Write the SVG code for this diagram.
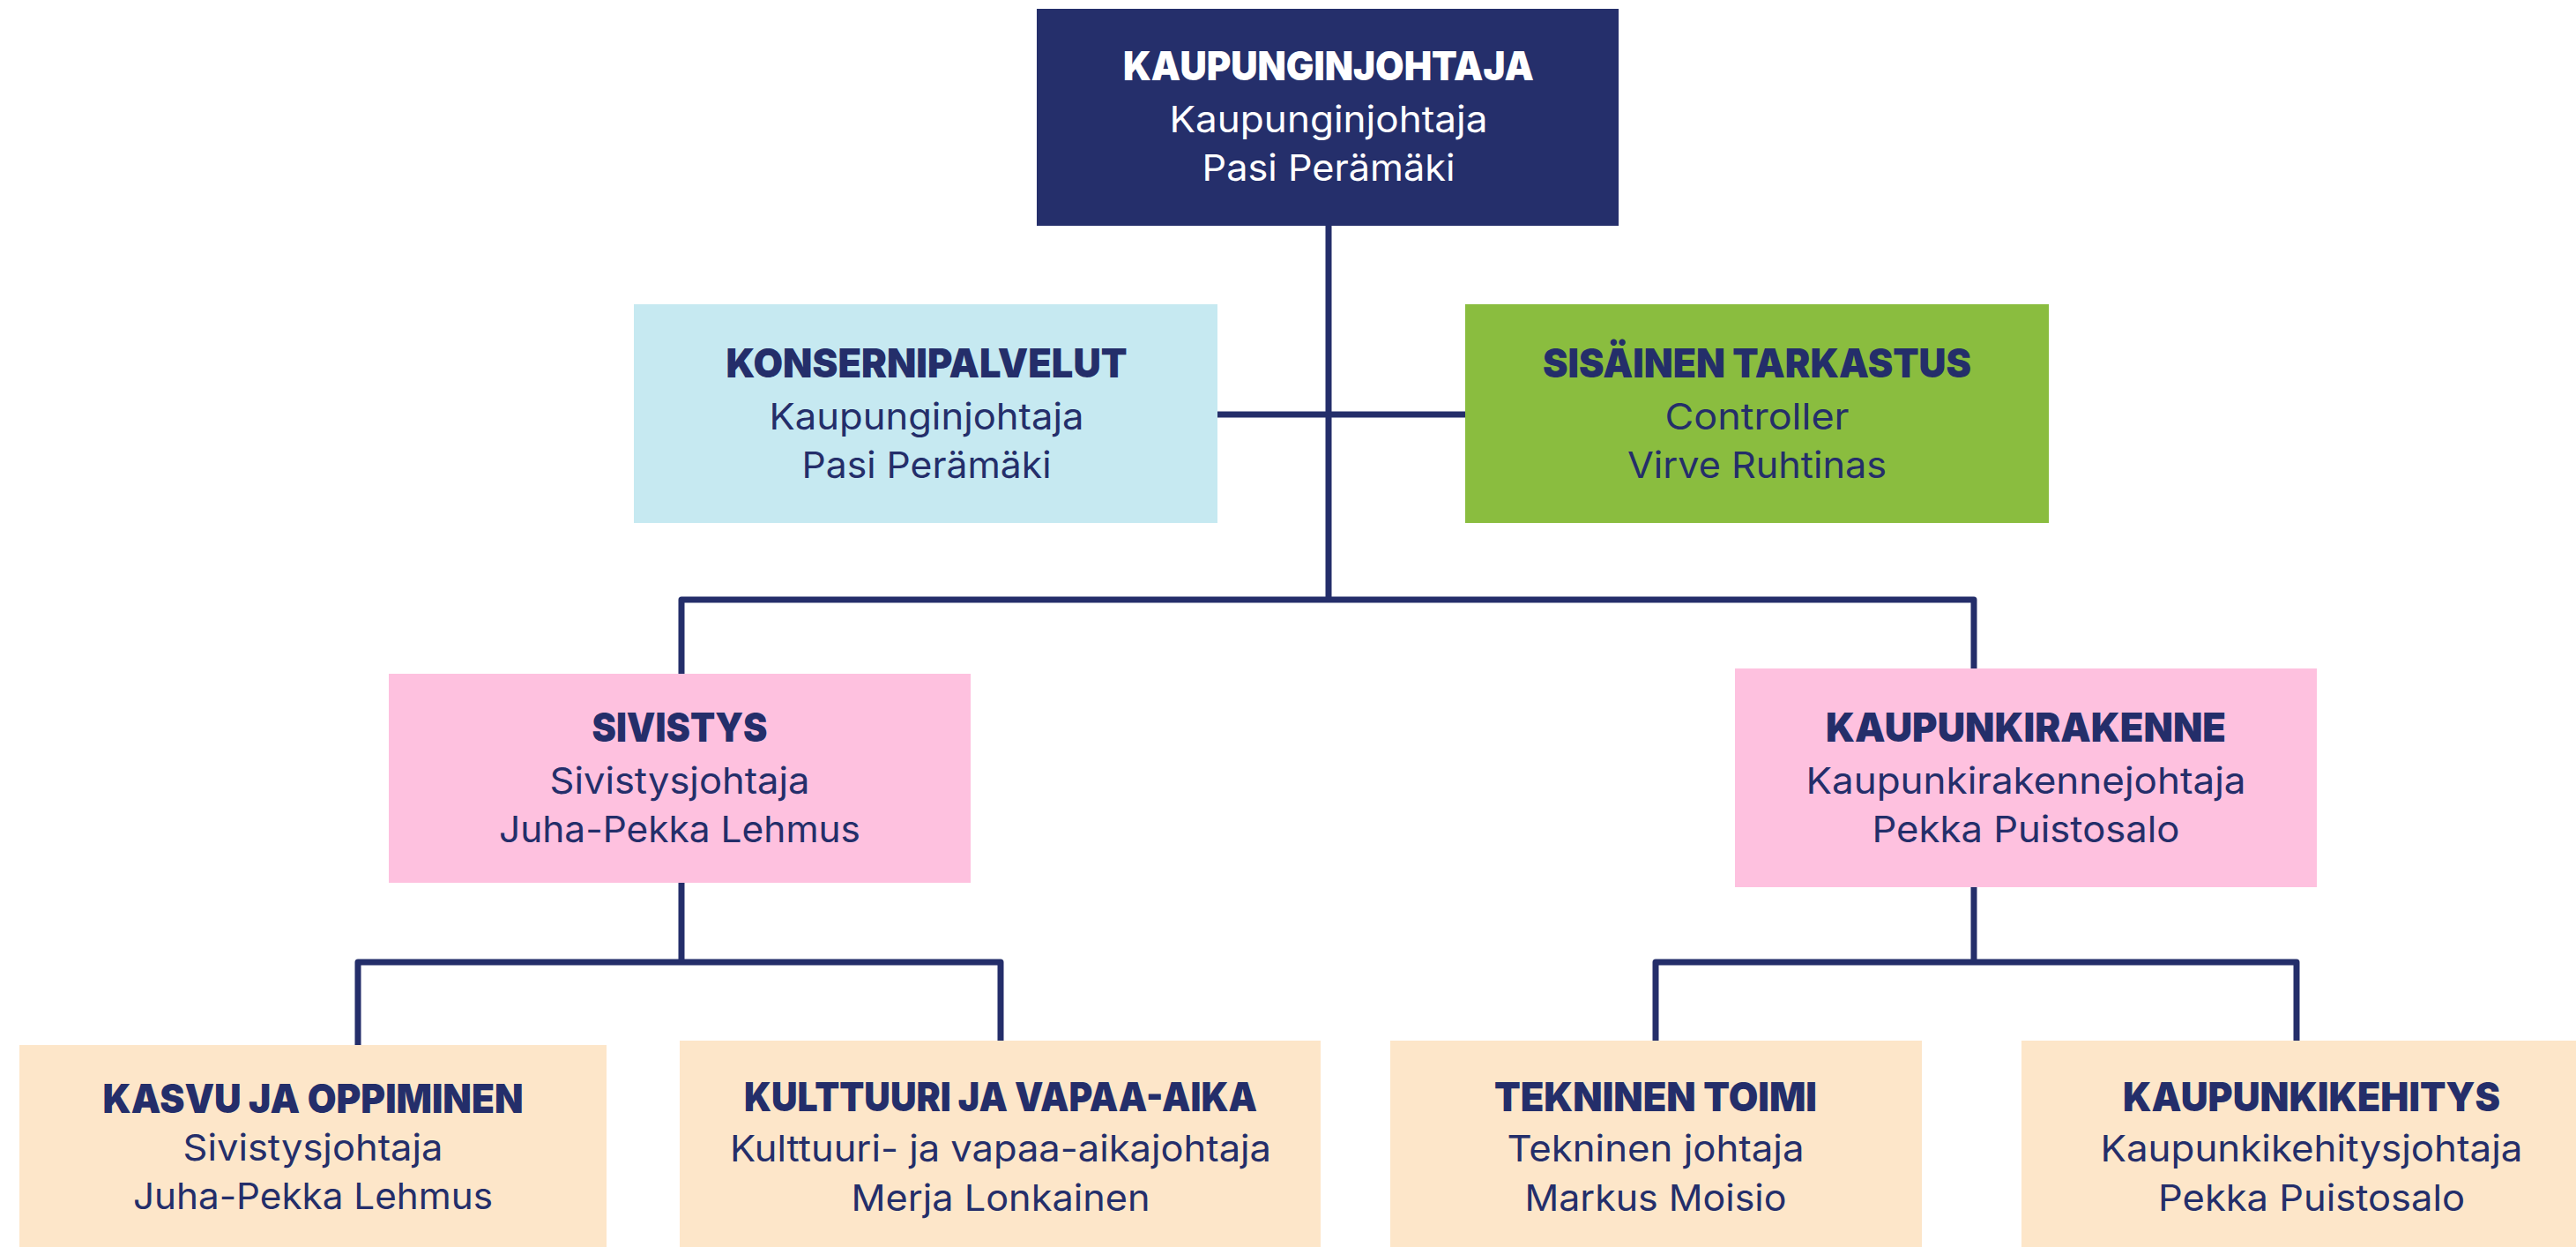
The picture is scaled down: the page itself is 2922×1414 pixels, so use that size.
<svg xmlns="http://www.w3.org/2000/svg" width="2922" height="1414" viewBox="0 0 2922 1414">
<style>
.t{font-family:Inter,"Liberation Sans",sans-serif;font-weight:900;font-size:45px;text-anchor:middle;fill:#242E6A}
.s{font-family:Inter,"Liberation Sans",sans-serif;font-weight:400;font-size:41px;text-anchor:middle;fill:#242E6A}
.w{fill:#FFFFFF}
.ln{stroke:#242E6A;stroke-width:7;fill:none;stroke-linejoin:round}
</style>
<rect width="2922" height="1414" fill="#FFFFFF"/>
<g id="connectors">
<path class="ln" d="M1507 255 V680"/>
<path class="ln" d="M1381 470 H1662"/>
<path class="ln" d="M773 764 V680 H2239 V758"/>
<path class="ln" d="M773 1001 V1091"/>
<path class="ln" d="M406 1185 V1091 H1135 V1180"/>
<path class="ln" d="M2239 1006 V1091"/>
<path class="ln" d="M1878 1180 V1091 H2605 V1180"/>
</g>
<g id="kaupunginjohtaja">
<rect x="1176" y="10" width="660" height="246" fill="#252F6B"/>
<text class="t w" x="1507" y="91" textLength="466" lengthAdjust="spacingAndGlyphs">KAUPUNGINJOHTAJA</text>
<text class="s w" x="1507" y="150" textLength="361" lengthAdjust="spacingAndGlyphs">Kaupunginjohtaja</text>
<text class="s w" x="1507" y="205" textLength="287" lengthAdjust="spacingAndGlyphs">Pasi Perämäki</text>
</g>
<g id="konsernipalvelut">
<rect x="719" y="345" width="662" height="248" fill="#C6E9F1"/>
<text class="t" x="1051" y="428" textLength="455" lengthAdjust="spacingAndGlyphs">KONSERNIPALVELUT</text>
<text class="s" x="1051" y="487" textLength="357" lengthAdjust="spacingAndGlyphs">Kaupunginjohtaja</text>
<text class="s" x="1051" y="542" textLength="283" lengthAdjust="spacingAndGlyphs">Pasi Perämäki</text>
</g>
<g id="sisainen-tarkastus">
<rect x="1662" y="345" width="662" height="248" fill="#8ABD3F"/>
<text class="t" x="1993" y="428" textLength="486" lengthAdjust="spacingAndGlyphs">SISÄINEN TARKASTUS</text>
<text class="s" x="1993" y="487" textLength="209" lengthAdjust="spacingAndGlyphs">Controller</text>
<text class="s" x="1993" y="542" textLength="294" lengthAdjust="spacingAndGlyphs">Virve Ruhtinas</text>
</g>
<g id="sivistys">
<rect x="441" y="764" width="660" height="237" fill="#FEC1DF"/>
<text class="t" x="771" y="841" textLength="199" lengthAdjust="spacingAndGlyphs">SIVISTYS</text>
<text class="s" x="771" y="900" textLength="295" lengthAdjust="spacingAndGlyphs">Sivistysjohtaja</text>
<text class="s" x="771" y="955" textLength="410" lengthAdjust="spacingAndGlyphs">Juha-Pekka Lehmus</text>
</g>
<g id="kaupunkirakenne">
<rect x="1968" y="758" width="660" height="248" fill="#FEC1DF"/>
<text class="t" x="2298" y="841" textLength="454" lengthAdjust="spacingAndGlyphs">KAUPUNKIRAKENNE</text>
<text class="s" x="2298" y="900" textLength="499" lengthAdjust="spacingAndGlyphs">Kaupunkirakennejohtaja</text>
<text class="s" x="2298" y="955" textLength="349" lengthAdjust="spacingAndGlyphs">Pekka Puistosalo</text>
</g>
<g id="kasvu-ja-oppiminen">
<rect x="22" y="1185" width="666" height="240" fill="#FDE6C9"/>
<text class="t" x="355" y="1262" textLength="477" lengthAdjust="spacingAndGlyphs">KASVU JA OPPIMINEN</text>
<text class="s" x="355" y="1316" textLength="295" lengthAdjust="spacingAndGlyphs">Sivistysjohtaja</text>
<text class="s" x="355" y="1371" textLength="408" lengthAdjust="spacingAndGlyphs">Juha-Pekka Lehmus</text>
</g>
<g id="kulttuuri-ja-vapaa-aika">
<rect x="771" y="1180" width="727" height="245" fill="#FDE6C9"/>
<text class="t" x="1135" y="1260" textLength="582" lengthAdjust="spacingAndGlyphs">KULTTUURI JA VAPAA-AIKA</text>
<text class="s" x="1135" y="1317" textLength="614" lengthAdjust="spacingAndGlyphs">Kulttuuri- ja vapaa-aikajohtaja</text>
<text class="s" x="1135" y="1373" textLength="339" lengthAdjust="spacingAndGlyphs">Merja Lonkainen</text>
</g>
<g id="tekninen-toimi">
<rect x="1577" y="1180" width="603" height="245" fill="#FDE6C9"/>
<text class="t" x="1878" y="1260" textLength="366" lengthAdjust="spacingAndGlyphs">TEKNINEN TOIMI</text>
<text class="s" x="1878" y="1317" textLength="337" lengthAdjust="spacingAndGlyphs">Tekninen johtaja</text>
<text class="s" x="1878" y="1373" textLength="297" lengthAdjust="spacingAndGlyphs">Markus Moisio</text>
</g>
<g id="kaupunkikehitys">
<rect x="2293" y="1180" width="640" height="245" fill="#FDE6C9"/>
<text class="t" x="2622" y="1260" textLength="428" lengthAdjust="spacingAndGlyphs">KAUPUNKIKEHITYS</text>
<text class="s" x="2622" y="1317" textLength="479" lengthAdjust="spacingAndGlyphs">Kaupunkikehitysjohtaja</text>
<text class="s" x="2622" y="1373" textLength="348" lengthAdjust="spacingAndGlyphs">Pekka Puistosalo</text>
</g>
</svg>
